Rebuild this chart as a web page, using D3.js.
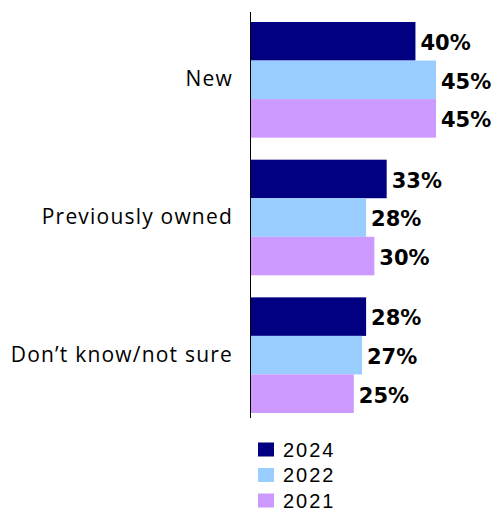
<!DOCTYPE html>
<html><head><meta charset="utf-8">
<script src="https://cdn.jsdelivr.net/npm/d3@7"></script>
<style>body{margin:0;background:#fff}</style>
</head><body>
<svg id="c" width="494" height="512"></svg>
<script>
const categories = ["New", "Previously owned", "Don\u2019t know/not sure"];
const seriesNames = ["2024", "2022", "2021"];
const values2024 = [40, 33, 28];
const values2022 = [45, 28, 27];
const values2021 = [45, 30, 25];
const colors = ["#000080", "#99CCFF", "#CC99FF"];

const series = [values2024, values2022, values2021];
const svg = d3.select("#c");
const x0 = 251;
const x = d3.scaleLinear().domain([0, 45]).range([x0, 436]);
const y = d3.scaleBand().domain(categories).range([11, 424]).paddingInner(0.16).paddingOuter(0.08);
const yi = d3.scaleBand().domain(seriesNames).range([0, y.bandwidth()]);

categories.forEach((c, ci) => {
  const g = svg.append("g").attr("transform", `translate(0,${y(c)})`);
  seriesNames.forEach((s, si) => {
    const v = series[si][ci];
    g.append("rect").attr("x", x0).attr("y", yi(s)).attr("width", x(v) - x0).attr("height", yi.bandwidth()).attr("fill", colors[si]);
    g.append("text").attr("x", x(v) + 5).attr("y", yi(s) + yi.bandwidth() / 2).attr("dy", "0.42em")
      .attr("font-family", "DejaVu Sans").attr("font-weight", "bold").attr("font-size", 21).attr("fill", "#000")
      .text(v + "%");
  });
  svg.append("text").attr("x", 233).attr("y", y(c) + y.bandwidth() / 2).attr("dy", "0.31em")
    .attr("text-anchor", "end").attr("font-family", "Open Sans").attr("font-size", 21)
    .attr("letter-spacing", "1.2px").attr("fill", "#000").text(c);
});

svg.append("line").attr("x1", 250.5).attr("x2", 250.5).attr("y1", 12).attr("y2", 418).attr("stroke", "#000").attr("stroke-width", 1);

const leg = svg.append("g");
seriesNames.forEach((s, i) => {
  const ly = 449.5 + i * 25.5;
  leg.append("rect").attr("x", 258).attr("y", ly - 7).attr("width", 16).attr("height", 14).attr("fill", colors[i]);
  leg.append("text").attr("x", 283).attr("y", ly).attr("dy", "0.35em").attr("font-family", "Liberation Sans").attr("font-size", 20)
    .attr("letter-spacing", "2px").attr("fill", "#000").text(s);
});
</script>
</body></html>
